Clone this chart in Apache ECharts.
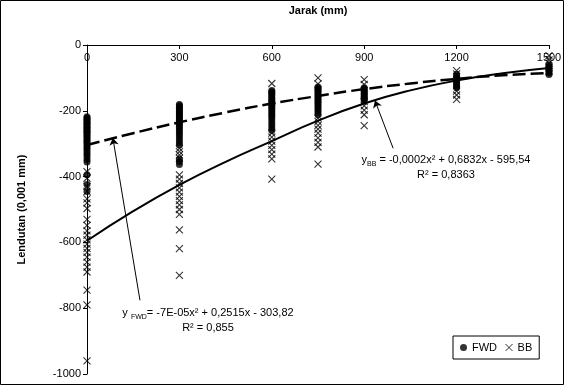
<!DOCTYPE html>
<html><head><meta charset="utf-8">
<script src="https://cdn.jsdelivr.net/npm/echarts@6/dist/echarts.min.js"></script>
<style>html,body{margin:0;padding:0;background:#fff}#c{width:565px;height:386px}</style>
</head><body><div id="c"></div>
<script>
// Distance categories (mm)
var distances = [0, 300, 600, 750, 900, 1200, 1500];
// FWD deflections (0.001 mm) per distance
var fwd0 = [-218,-222,-226,-230,-234,-238,-242,-246,-250,-254,-258,-262,-266,-270,-275,-280,-285,-290,-295,-300,-306,-312,-318,-325,-332,-340,-348,-356,-394,-424,-445];
var fwd300 = [-181,-185,-189,-193,-197,-201,-205,-209,-213,-217,-221,-226,-231,-236,-241,-246,-252,-258,-265,-272,-280,-288,-296,-304,-347,-355,-363];
var fwd600 = [-138,-142,-146,-150,-155,-160,-165,-170,-175,-180,-185,-190,-196,-202,-208,-214,-220,-228,-236,-244,-252,-260];
var fwd750 = [-128,-132,-136,-140,-145,-150,-155,-160,-165,-170,-175,-180,-186,-192,-198,-205,-212];
var fwd900 = [-130,-134,-138,-142,-146,-150,-154,-158,-162,-166,-170];
var fwd1200 = [-90,-95,-100,-105,-110,-115,-120,-125,-130];
var fwd1500 = [-60,-65,-70,-75,-80,-85,-90];
// Benkelman Beam deflections per distance
var bb0 = [-385,-405,-430,-445,-468,-480,-497,-530,-548,-565,-578,-592,-605,-618,-630,-645,-660,-675,-690,-745,-790,-960];
var bb300 = [-314,-324,-334,-344,-395,-408,-421,-434,-447,-460,-473,-486,-500,-515,-562,-619,-700];
var bb600 = [-117,-268,-280,-292,-305,-318,-332,-346,-408];
var bb750 = [-100,-118,-222,-232,-244,-256,-268,-282,-296,-310,-362];
var bb900 = [-105,-120,-172,-185,-198,-212,-245];
var bb1200 = [-78,-88,-140,-152,-165];
var bb1500 = [-32,-45,-55,-68,-80];
// Trend lines
var trendX = [0,150,300,450,600,750,900,1050,1200,1350,1500];
var trendFWD = [-304,-268,-235,-205,-178,-155,-134,-117,-103,-92,-85];
var trendBB = [-595,-505,-425,-355,-292,-230,-178,-138,-108,-86,-70];
// Axis ticks
var xTicks = {min:0, max:1500, interval:300};
var yTicks = {min:-1000, max:0, interval:200};
// Annotation arrows [tail, head] in data units
var arrowFWD = [[172,-776],[84,-283]];
var arrowBB = [[994,-314],[935,-169]];

function pts(x, arr){ return arr.map(function(v){return [x, v];}); }
var fwdCols = [fwd0,fwd300,fwd600,fwd750,fwd900,fwd1200,fwd1500];
var bbCols = [bb0,bb300,bb600,bb750,bb900,bb1200,bb1500];
var fwdData = [], bbData = [];
distances.forEach(function(d,i){ fwdData = fwdData.concat(pts(d,fwdCols[i])); bbData = bbData.concat(pts(d,bbCols[i])); });
var fwdLine = trendX.map(function(x,i){return [x,trendFWD[i]];});
var bbLine = trendX.map(function(x,i){return [x,trendBB[i]];});

var F = 'Liberation Sans, Arial, sans-serif';
var cross = 'path://M0,0L10,10M10,0L0,10';
var plain = function(v){ return String(v); };
var chart = echarts.init(document.getElementById('c'));
chart.setOption({
  animation:false,
  backgroundColor:'#fff',
  grid:{left:87, top:43, right:16, bottom:12},
  xAxis:{type:'value', position:'top', min:xTicks.min, max:xTicks.max, interval:xTicks.interval,
    name:'Jarak (mm)', nameLocation:'middle', nameGap:29,
    nameTextStyle:{fontFamily:F, fontSize:11, fontWeight:'bold', color:'#000'},
    axisLine:{onZero:false, lineStyle:{color:'#000', width:1}},
    axisTick:{show:true, inside:true, length:4, lineStyle:{color:'#000'}},
    axisLabel:{inside:true, margin:7, fontFamily:F, fontSize:11, color:'#000', formatter:plain},
    splitLine:{show:false}},
  yAxis:{type:'value', min:yTicks.min, max:yTicks.max, interval:yTicks.interval,
    name:'Lendutan (0,001 mm)', nameLocation:'middle', nameGap:60,
    nameTextStyle:{fontFamily:F, fontSize:11, fontWeight:'bold', color:'#000'},
    axisLine:{show:true, onZero:false, lineStyle:{color:'#000', width:1}},
    axisTick:{show:true, length:4, lineStyle:{color:'#000'}},
    axisLabel:{margin:6, fontFamily:F, fontSize:11, color:'#000', formatter:plain},
    splitLine:{show:false}},
  legend:{left:453, top:336, orient:'horizontal', itemGap:8, itemWidth:7, itemHeight:7,
    padding:[6,7,6,7], borderColor:'#000', borderWidth:1, backgroundColor:'#fff',
    textStyle:{fontFamily:F, fontSize:11, color:'#000'},
    data:[{name:'FWD', icon:'circle'}, {name:'BB', icon:cross, itemStyle:{color:'transparent', borderColor:'#000', borderWidth:1}}]},
  series:[
    {name:'FWD', type:'scatter', data:fwdData, symbol:'circle', symbolSize:7, itemStyle:{color:'#000'}, z:3},
    {name:'BB', type:'scatter', data:bbData, symbol:cross, symbolSize:7,
      itemStyle:{color:'transparent', borderColor:'#000', borderWidth:1.1}, z:4},
    {name:'trendFWD', type:'line', data:fwdLine, smooth:true, showSymbol:false, z:5,
      lineStyle:{color:'#000', width:2.5, type:[13,5]}},
    {name:'trendBB', type:'line', data:bbLine, smooth:true, showSymbol:false, z:5,
      lineStyle:{color:'#000', width:2}},
    {name:'arrows', type:'line', data:[], z:6,
      markLine:{silent:true, symbol:['none','arrow'], symbolSize:7, label:{show:false},
        lineStyle:{color:'#000', width:1, type:'solid'},
        data:[[{coord:arrowFWD[0]},{coord:arrowFWD[1]}],[{coord:arrowBB[0]},{coord:arrowBB[1]}]]}}
  ],
  graphic:[
    {type:'rect', shape:{x:0.5, y:0.5, width:563, height:384}, style:{fill:'none', stroke:'#000', lineWidth:1}, z:0, silent:true},
    {type:'text', x:208, y:313, style:{text:'{m|y }{s|FWD}{m|= -7E-05x² + 0,2515x - 303,82}', align:'center', verticalAlign:'middle',
      rich:{m:{fontFamily:F, fontSize:11, fill:'#000', verticalAlign:'bottom'}, s:{fontFamily:F, fontSize:7, fill:'#000', verticalAlign:'bottom', padding:[0,0,-2,0]}}}},
    {type:'text', x:208, y:328, style:{text:'R² = 0,855', align:'center', verticalAlign:'middle', fontFamily:F, fontSize:11, fill:'#000'}},
    {type:'text', x:446, y:160, style:{text:'{m|y}{s|BB}{m| = -0,0002x² + 0,6832x - 595,54}', align:'center', verticalAlign:'middle',
      rich:{m:{fontFamily:F, fontSize:11, fill:'#000', verticalAlign:'bottom'}, s:{fontFamily:F, fontSize:7, fill:'#000', verticalAlign:'bottom', padding:[0,0,-2,0]}}}},
    {type:'text', x:446, y:175, style:{text:'R² = 0,8363', align:'center', verticalAlign:'middle', fontFamily:F, fontSize:11, fill:'#000'}}
  ]
});
</script></body></html>
